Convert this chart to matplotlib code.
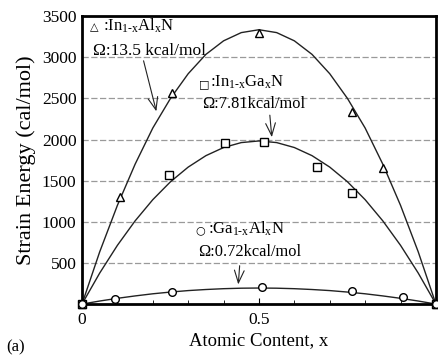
import numpy as np
import matplotlib
matplotlib.use("Agg")
import matplotlib.pyplot as plt

plt.rcParams['font.family'] = ['Liberation Serif', 'DejaVu Sans']
plt.rcParams['mathtext.fontset'] = 'custom'
plt.rcParams['mathtext.rm'] = 'Liberation Serif'
plt.rcParams['mathtext.it'] = 'Liberation Serif'

# measured points
inaln_x = [0, 0.107, 0.254, 0.5, 0.763, 0.85, 1]
inaln_y = [0, 1300, 2570, 3300, 2340, 1650, 0]
ingan_x = [0, 0.246, 0.404, 0.514, 0.665, 0.763, 1]
ingan_y = [0, 1570, 1960, 1975, 1670, 1355, 0]
gaaln_x = [0, 0.093, 0.254, 0.508, 0.763, 0.907, 1]
gaaln_y = [0, 60, 145, 205, 155, 85, 0]

# fitted curves
curve_x = [0, 0.05, 0.1, 0.15, 0.2, 0.25, 0.3, 0.35, 0.4, 0.45, 0.5,
           0.55, 0.6, 0.65, 0.7, 0.75, 0.8, 0.85, 0.9, 0.95, 1]
inaln_fit = [0, 635, 1200, 1700, 2140, 2500, 2800, 3035, 3200, 3300, 3335,
             3300, 3200, 3035, 2800, 2500, 2140, 1700, 1200, 635, 0]
ingan_fit = [0, 377, 714, 1011, 1269, 1487, 1665, 1804, 1903, 1963, 1983,
             1963, 1903, 1804, 1665, 1487, 1269, 1011, 714, 377, 0]
gaaln_fit = [0, 37, 70, 99, 125, 146, 164, 177, 187, 193, 195,
             193, 187, 177, 164, 146, 125, 99, 70, 37, 0]

yticks = [500, 1000, 1500, 2000, 2500, 3000, 3500]

fig = plt.figure(figsize=(4.39, 3.59), dpi=100)
ax = fig.add_axes([0.1868, 0.153, 0.8062, 0.802])

for y in yticks[:-1]:
    ax.axhline(y, color='#9a9a9a', lw=0.9, ls=(0, (5, 2)), zorder=0)

ax.plot(curve_x, inaln_fit, color='#222222', lw=1.0, clip_on=False)
ax.plot(curve_x, ingan_fit, color='#222222', lw=1.0, clip_on=False)
ax.plot(curve_x, gaaln_fit, color='#222222', lw=1.0, clip_on=False)

mk = dict(ls='none', mfc='white', mec='black', mew=1.0, ms=5.5, clip_on=False, zorder=5)
ax.plot(inaln_x, inaln_y, marker='^', **mk)
ax.plot(ingan_x, ingan_y, marker='s', **mk)
ax.plot(gaaln_x, gaaln_y, marker='o', **mk)

ax.set_xlim(0, 1)
ax.set_ylim(0, 3500)
ax.set_xticks([0, 0.5])
ax.set_xticklabels(['0', '0.5'], fontsize=12.5)
ax.set_xticks(np.arange(0.1, 1.0, 0.1), minor=True)
ax.tick_params(axis='x', which='major', direction='in', length=4, pad=6)
ax.tick_params(axis='x', which='minor', direction='in', length=3)
ax.set_yticks(yticks)
ax.set_yticklabels([str(v) for v in yticks], fontsize=12.5)
ax.tick_params(axis='y', length=0, pad=4)
for s in ax.spines.values():
    s.set_linewidth(2.0)

ax.set_ylabel('Strain Energy (cal/mol)', fontsize=16, labelpad=4)
ax.set_xlabel('Atomic Content, x', fontsize=13.5, labelpad=3)
fig.text(0.015, 0.02, '(a)', fontsize=12)

# labels with arrows
sym = dict(family='DejaVu Sans', fontsize=8, va='baseline')
arr = dict(arrowstyle='->,head_length=0.9,head_width=0.35', lw=0.8, color='#222222')

ax.text(0.022, 3330, '△', **sym)
ax.text(0.058, 3330, r':In$_{1\text{-}x}$Al$_x$N', fontsize=12)
ax.text(0.03, 3030, 'Ω:13.5 kcal/mol', fontsize=12.5)
ax.annotate('', xy=(0.212, 2310), xytext=(0.172, 2990), arrowprops=arr)

ax.text(0.33, 2640, '□', **sym)
ax.text(0.362, 2640, r':In$_{1\text{-}x}$Ga$_x$N', fontsize=12)
ax.text(0.34, 2380, 'Ω:7.81kcal/mol', fontsize=11.8)
ax.annotate('', xy=(0.537, 1995), xytext=(0.53, 2330), arrowprops=arr)

ax.text(0.32, 860, '○', **sym)
ax.text(0.355, 860, r':Ga$_{1\text{-}x}$Al$_x$N', fontsize=12)
ax.text(0.328, 580, 'Ω:0.72kcal/mol', fontsize=11.8)
ax.annotate('', xy=(0.441, 205), xytext=(0.446, 500), arrowprops=arr)

fig.savefig('out.png', dpi=100)
